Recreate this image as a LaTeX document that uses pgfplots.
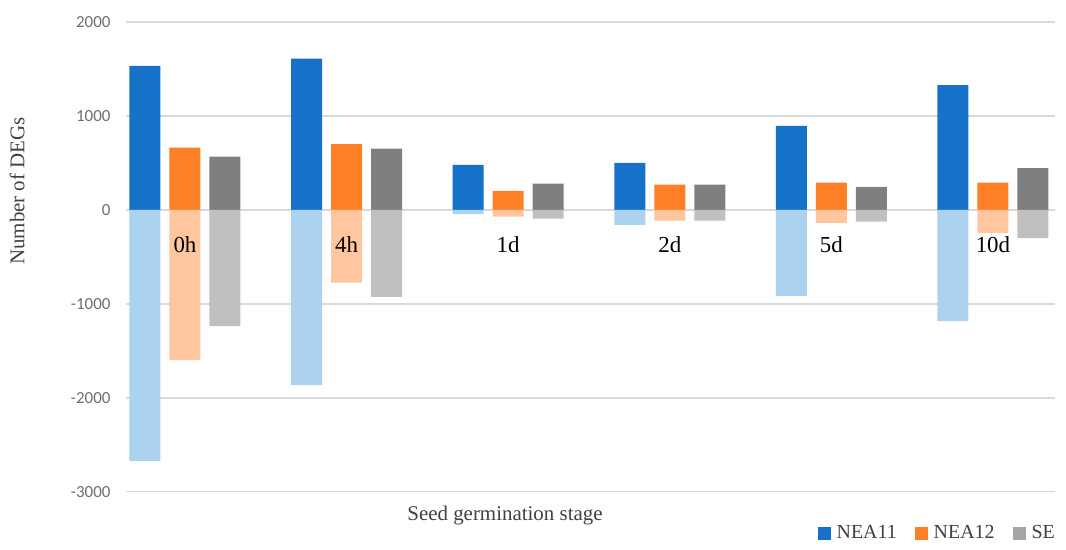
\documentclass[border=0pt]{standalone}
\usepackage{pgfplots}
\pgfplotsset{compat=1.18}
\usepackage{pgfplotstable}
\usepackage{fontspec}
\setmainfont{Liberation Serif}
\newfontfamily\tickfont{Carlito}

\definecolor{nBlue}{HTML}{1672C8}
\definecolor{nBlueL}{HTML}{ABD2EF}
\definecolor{nOrange}{HTML}{FF7F27}
\definecolor{nOrangeL}{HTML}{FFC6A0}
\definecolor{nGray}{HTML}{7F7F7F}
\definecolor{nGrayL}{HTML}{C1C0BF}
\definecolor{legGray}{HTML}{A5A5A5}
\definecolor{gridc}{HTML}{D9D9D9}
\definecolor{txt}{HTML}{404040}
\definecolor{tickc}{HTML}{6E6E6E}

% up- and down-regulated DEGs per stage
\pgfplotstableread{
x  n11up n11dn n12up n12dn seup sedn
0  1533 -2672  663 -1600  567 -1238
1  1611 -1866  699  -774  653  -926
2   479   -46  202   -71  280   -93
3   500  -160  269  -114  269  -114
4   894  -915  291  -138  245  -124
5  1327 -1185  291  -245  444  -301
}\degs

\begin{document}
\begin{tikzpicture}
\useasboundingbox (-126bp,-58.3bp) rectangle (940bp,491.7bp);
\begin{axis}[%
width=929bp,
height=469.7bp,
scale only axis,
xmin=-0.365, xmax=5.384,
ymin=-3000, ymax=2000,
xtick=\empty,
ytick={-3000,-2000,-1000,0,1000,2000},
yticklabels={-3000,-2000,-1000,0,1000,2000},
ymajorgrids,
major grid style={gridc, line width=1.5bp},
axis line style={draw=none},
major tick length=0pt,
yticklabel style={font=\tickfont\fontsize{17}{20}\selectfont, text=tickc, xshift=-12bp},
ybar, bar width=31bp,
every axis plot/.append style={draw=none},
legend image code/.code={\fill[#1,draw=none] (0bp,-6.5bp) rectangle (13bp,6.5bp);},
legend style={at={(axis description cs:1.0022,-0.088)}, anchor=east,
  draw=none, fill=none, inner sep=0pt,
  font=\fontsize{20}{24}\selectfont, text=txt,
  /tikz/every odd column/.append style={column sep=4bp},
  /tikz/every even column/.append style={column sep=16bp}},
legend columns=3,
]
% NEA11
\addplot[fill=nBlue, bar shift=-40bp, forget plot] table[x=x, y=n11up] {\degs};
\addplot[fill=nBlueL, bar shift=-40bp, forget plot] table[x=x, y=n11dn] {\degs};
% NEA12
\addplot[fill=nOrange, bar shift=0bp, forget plot] table[x=x, y=n12up] {\degs};
\addplot[fill=nOrangeL, bar shift=0bp, forget plot] table[x=x, y=n12dn] {\degs};
% SE
\addplot[fill=nGray, bar shift=40bp, forget plot] table[x=x, y=seup] {\degs};
\addplot[fill=nGrayL, bar shift=40bp, forget plot] table[x=x, y=sedn] {\degs};

\addlegendimage{fill=nBlue}\addlegendentry{NEA11}
\addlegendimage{fill=nOrange}\addlegendentry{NEA12}
\addlegendimage{fill=legGray}\addlegendentry{SE}

\node[font=\fontsize{23}{28}\selectfont] at (axis cs:0,0) [yshift=-35bp] {0h};
\node[font=\fontsize{23}{28}\selectfont] at (axis cs:1,0) [yshift=-35bp] {4h};
\node[font=\fontsize{23}{28}\selectfont] at (axis cs:2,0) [yshift=-35bp] {1d};
\node[font=\fontsize{23}{28}\selectfont] at (axis cs:3,0) [yshift=-35bp] {2d};
\node[font=\fontsize{23}{28}\selectfont] at (axis cs:4,0) [yshift=-35bp] {5d};
\node[font=\fontsize{23}{28}\selectfont] at (axis cs:5,0) [yshift=-35bp] {10d};
\end{axis}
\node[rotate=90, font=\fontsize{21}{24}\selectfont, text=txt] at (-109bp,300.7bp) {Number of DEGs};
\node[font=\fontsize{21}{24}\selectfont, text=txt] at (379bp,-23.3bp) {Seed germination stage};
\end{tikzpicture}
\end{document}
